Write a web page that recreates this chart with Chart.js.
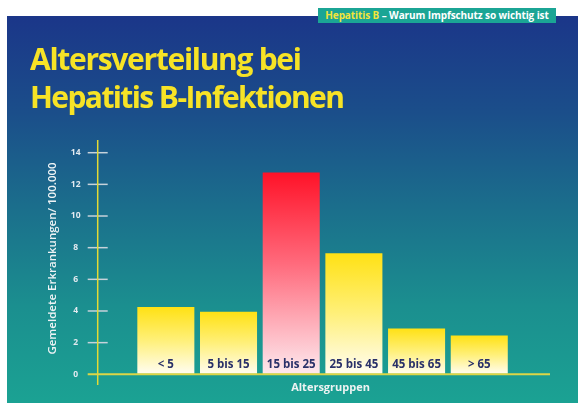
<!DOCTYPE html>
<html>
<head>
<meta charset="utf-8">
<script src="https://cdn.jsdelivr.net/npm/chart.js@4/dist/chart.umd.min.js"></script>
<style>
  html, body { margin:0; padding:0; background:#ffffff; width:578px; height:403px; overflow:hidden; }
  #panel { position:absolute; left:7px; top:16px; width:571px; height:387px;
    background: linear-gradient(to bottom, #1b3689 0%, #1b4e8a 25%, #1b6f8c 50%, #1b8f8f 75%, #1ba293 100%); }
  #chart { position:absolute; left:0; top:0; }
  #header { position:absolute; left:318px; top:8px; width:238px; height:15px; background:#1ba595;
    font-family:"Open Sans", sans-serif; font-weight:700; font-size:10px; line-height:15px; color:#ffffff;
    white-space:nowrap; text-align:center; letter-spacing:-0.1px; z-index:2; }
  #header .hl { color:#f2e43a; }
  #title { position:absolute; left:30px; top:40px; font-family:"Open Sans", sans-serif; font-weight:700;
    font-size:30px; line-height:38px; color:#f7e326; letter-spacing:-1.3px; white-space:nowrap; z-index:2; }
  #title .l2 { letter-spacing:-1.6px; }
</style>
</head>
<body>
<div id="panel"><canvas id="chart" width="571" height="387"></canvas></div>
<div id="header"><span class="hl">Hepatitis B</span> – Warum Impfschutz so wichtig ist</div>
<div id="title">Altersverteilung bei<br><span class="l2">Hepatitis B-Infektionen</span></div>
<script>
const categories = ['< 5', '5 bis 15', '15 bis 25', '25 bis 45', '45 bis 65', '> 65'];
const values = [4.25, 3.95, 12.75, 7.65, 2.9, 2.45];
const yTicks = [0, 2, 4, 6, 8, 10, 12, 14];
const highlightIndex = 2;
const yTitle = 'Gemeldete Erkrankungen/ 100.000';
const xTitle = 'Altersgruppen';

function barFill(ctx) {
  const chart = ctx.chart;
  const ys = chart.scales.y;
  const fallback = ctx.dataIndex === highlightIndex ? '#ff4a5c' : '#ffe95a';
  if (!ys || ctx.dataIndex === undefined) return fallback;
  const v = values[ctx.dataIndex];
  const top = ys.getPixelForValue(v);
  const base = ys.getPixelForValue(0);
  if (!isFinite(top) || !isFinite(base) || top === base) return fallback;
  const g = chart.ctx.createLinearGradient(0, top, 0, base);
  if (ctx.dataIndex === highlightIndex) {
    g.addColorStop(0, '#ff1228');
    g.addColorStop(0.45, '#ff6a7c');
    g.addColorStop(1, '#fde9ee');
  } else {
    g.addColorStop(0, '#ffe114');
    g.addColorStop(0.5, '#fff07a');
    g.addColorStop(1, '#fffdf3');
  }
  return g;
}

const decor = {
  id: 'decor',
  afterDatasetsDraw(chart) {
    const { ctx, chartArea: ca } = chart;
    const ys = chart.scales.y;
    const axisX = ca.left - 36.8;
    const y0 = ys.getPixelForValue(0);
    ctx.save();
    ctx.strokeStyle = '#c7d2da';
    ctx.lineWidth = 1.5;
    yTicks.forEach(v => {
      if (v === 0) return;
      const y = ys.getPixelForValue(v);
      ctx.beginPath(); ctx.moveTo(axisX - 10, y); ctx.lineTo(axisX + 10, y); ctx.stroke();
    });
    ctx.strokeStyle = '#e4da34';
    ctx.lineWidth = 1.5;
    ctx.beginPath(); ctx.moveTo(axisX, ca.top - 12.7); ctx.lineTo(axisX, y0 + 10.7); ctx.stroke();
    ctx.strokeStyle = '#ddd646';
    ctx.lineWidth = 2;
    ctx.beginPath(); ctx.moveTo(axisX - 10, y0); ctx.lineTo(ca.right + 39.4, y0); ctx.stroke();
    const meta = chart.getDatasetMeta(0);
    ctx.fillStyle = '#2a3169';
    ctx.font = '700 11.5px "Open Sans", sans-serif';
    ctx.textAlign = 'center';
    ctx.textBaseline = 'middle';
    meta.data.forEach((bar, i) => {
      ctx.fillText(categories[i], bar.x, y0 - 10);
    });
    ctx.fillStyle = '#eef3f3';
    ctx.font = '700 11px "Open Sans", sans-serif';
    ctx.fillText(xTitle, (ca.left + ca.right) / 2 + 8, y0 + 14);
    ctx.translate(ca.left - 82, (ca.top + ca.bottom) / 2 - 5);
    ctx.rotate(-Math.PI / 2);
    ctx.font = '600 11.5px "Open Sans", sans-serif';
    ctx.fillStyle = '#eef3f5';
    ctx.fillText(yTitle, 0, 0);
    ctx.restore();
  }
};

new Chart(document.getElementById('chart'), {
  type: 'bar',
  data: {
    labels: categories,
    datasets: [{
      data: values,
      backgroundColor: barFill,
      borderWidth: 0,
      barPercentage: 0.91,
      categoryPercentage: 1.0
    }]
  },
  options: {
    responsive: false,
    animation: false,
    devicePixelRatio: 1,
    layout: { padding: { left: 0, top: 136.7, right: 67.4, bottom: 28.7 } },
    plugins: { legend: { display: false }, tooltip: { enabled: false }, title: { display: false } },
    scales: {
      x: { display: false },
      y: {
        min: 0, max: 14,
        afterBuildTicks: s => { s.ticks = yTicks.map(v => ({ value: v })); },
        afterFit: s => { s.width = 127.5; },
        grid: { display: true, drawOnChartArea: false, drawTicks: true, tickLength: 54, tickColor: 'rgba(0,0,0,0)' },
        border: { display: false },
        ticks: { padding: 0, crossAlign: 'center', color: '#e3eaf0',
                 font: { family: '"Open Sans", sans-serif', size: 8.5, weight: '700' } }
      }
    }
  },
  plugins: [decor]
});
</script>
</body>
</html>
